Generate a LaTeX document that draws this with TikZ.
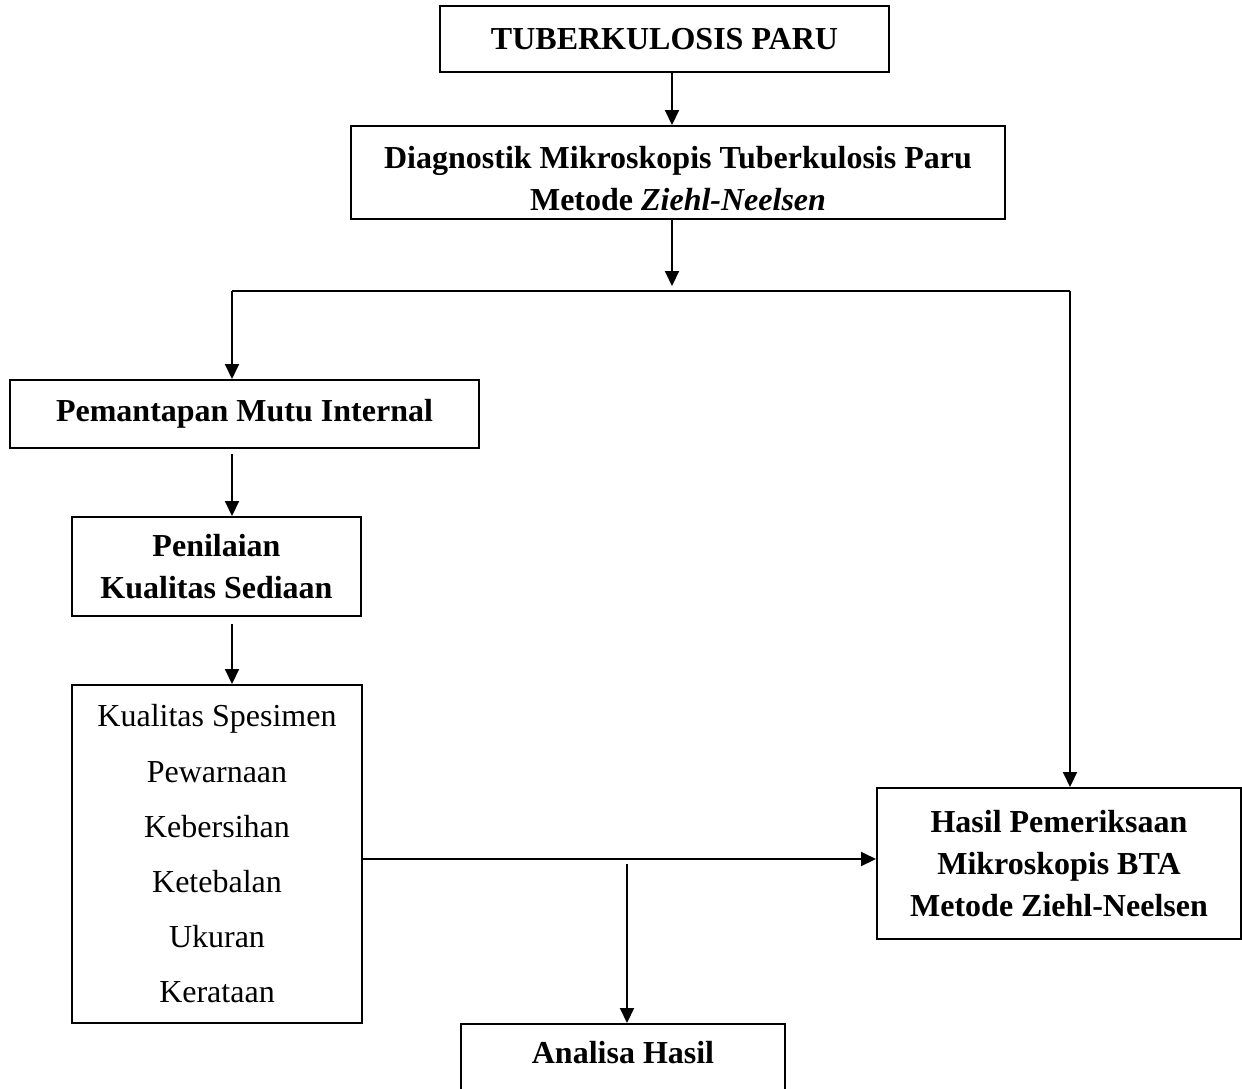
\documentclass[tikz,border=0pt]{standalone}
\usepackage{fontspec}
\setmainfont{Liberation Serif}
\usetikzlibrary{arrows.meta}
\begin{document}
\begin{tikzpicture}[x=0.5pt,y=-0.5pt,
  box/.style={draw, line width=1pt, rectangle, inner sep=0pt, align=center,
    font=\fontsize{16}{21}\selectfont\bfseries},
  listbox/.style={draw, line width=1pt, rectangle, inner sep=0pt, align=center,
    font=\fontsize{16}{27.6}\selectfont},
  arr/.style={line width=1pt, -{Triangle[length=7.5pt,width=7pt]}},
  ln/.style={line width=1pt}]
\useasboundingbox (0,0) rectangle (1242,1088);
\node[box, minimum width=224.5pt, minimum height=33pt] (b1) at (664.5,39) {TUBERKULOSIS PARU};
\node[box, minimum width=327pt, minimum height=46.5pt] (b2) at (678,172.5)
  {\raisebox{-4.5pt}[\height][\depth]{\begin{tabular}{@{}c@{}}Diagnostik Mikroskopis Tuberkulosis Paru\\Metode \textit{Ziehl-Neelsen}\end{tabular}}};
\node[box, minimum width=234.5pt, minimum height=34pt] (b3) at (244.5,414) {Pemantapan Mutu Internal};
\node[box, minimum width=144.5pt, minimum height=49.5pt] (b4) at (216.5,566.5) {Penilaian\\Kualitas Sediaan};
\node[listbox, minimum width=145pt, minimum height=169pt] (b5) at (217,854)
  {Kualitas Spesimen\\Pewarnaan\\Kebersihan\\Ketebalan\\Ukuran\\Kerataan};
\node[box, minimum width=182pt, minimum height=75.5pt] (b6) at (1059,863.5)
  {Hasil Pemeriksaan\\Mikroskopis BTA\\Metode Ziehl-Neelsen};
\node[draw, line width=1pt, rectangle, minimum width=162pt, minimum height=45pt, anchor=north] (b7) at (623,1023) {};
\node[anchor=base, font=\fontsize{16}{21}\selectfont\bfseries] (t7) at ([yshift=-20pt]b7.north) {Analisa Hasil};
\coordinate (a1) at (672,0);
\coordinate (jl) at (232,291);
\coordinate (jm) at (672,291);
\coordinate (jr) at (1070,291);
\coordinate (m) at (627,859);
\draw[arr] (b1.south -| a1) -- (b2.north -| a1);
\draw[arr] (b2.south -| jm) -- ([yshift=2.5pt]jm);
\draw[ln] (jl) -- (jr);
\draw[arr] (jl) -- (b3.north -| jl);
\draw[arr] (jr) -- (b6.north -| jr);
\draw[arr] ([yshift=-2.5pt]b3.south -| jl) -- (b4.north -| jl);
\draw[arr] ([yshift=-3.5pt]b4.south -| jl) -- (b5.north -| jl);
\draw[arr] (b5.east |- m) -- (b6.west |- m);
\draw[arr] ([yshift=-2.5pt]m) -- (b7.north -| m);
\end{tikzpicture}
\end{document}
